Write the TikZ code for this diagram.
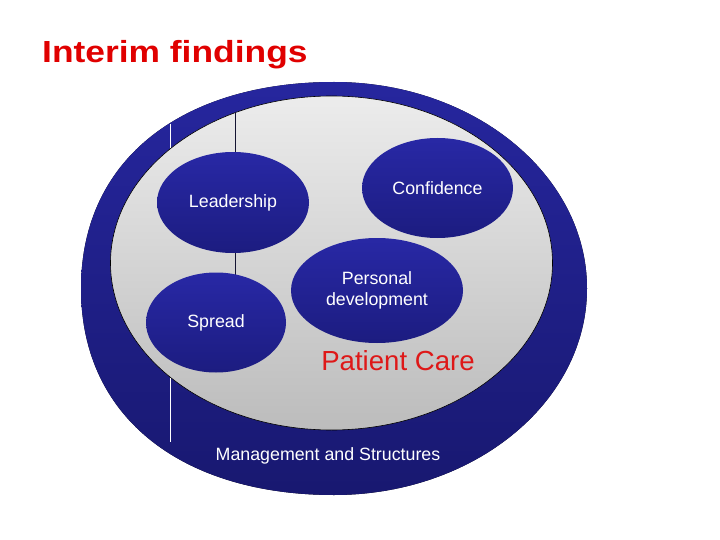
\documentclass[tikz,border=0pt]{standalone}
\usepackage{fontspec}
\setmainfont{Liberation Sans}
\usetikzlibrary{shapes.geometric}
\definecolor{bandtop}{RGB}{38,38,158}
\definecolor{bandbot}{RGB}{24,24,112}
\definecolor{bubtop}{RGB}{40,40,165}
\definecolor{bubbot}{RGB}{28,28,128}
\definecolor{grtop}{RGB}{236,236,236}
\definecolor{grbot}{RGB}{188,188,188}
\definecolor{titlered}{RGB}{224,0,0}
\definecolor{carered}{RGB}{222,24,24}
\definecolor{rulecol}{RGB}{20,20,50}
\begin{document}
\begin{tikzpicture}[x=1pt,y=-1pt,
  bubble/.style={ellipse, inner sep=0pt, top color=bubtop, bottom color=bubbot, text=white, font=\fontsize{17.8}{21}\selectfont, align=center},
  rulewhite/.style={white, line width=1.1pt},
  ruledark/.style={rulecol, line width=1pt}]
\useasboundingbox (0,0) rectangle (720,540);
% outer band
\fill[top color=bandtop, bottom color=bandbot] (587,288.5) .. controls (587,174.5) and (473.7,82) .. (334,82) .. controls (186.5,82) and (81,156) .. (81,288.5) .. controls (81,421) and (186.5,495) .. (334,495) .. controls (473.7,495) and (587,402.5) .. cycle;
\coordinate (wtop) at (170.5,124);
\coordinate (wbot) at (170.5,442);
\draw[rulewhite] (wtop) -- (wbot);
% inner ellipse
\node[ellipse, minimum width=442pt, minimum height=334pt, inner sep=0pt, draw=black, line width=.6pt, top color=grtop, bottom color=grbot] (inner) at (331.5,263) {};
\coordinate (dtop) at (235.5,112.5);
\coordinate (dbot) at (235.5,300);
\draw[ruledark] (dtop) -- (dbot);
% bubbles
\node[bubble, minimum width=152pt, minimum height=101pt] (lead) at (233,202.5) {Leadership};
\node[bubble, minimum width=151pt, minimum height=100pt] (conf) at (437.5,188) {Confidence};
\node[bubble, minimum width=172pt, minimum height=105pt] (pers) at (377,290.5) {Personal\\development};
\node[bubble, minimum width=140pt, minimum height=100pt] (spread) at (216,322.5) {Spread};
% texts
\node[font=\fontsize{27.6}{30}\selectfont, text=carered, inner sep=0pt] (care) at (398,361) {Patient Care};
\node[font=\fontsize{17.8}{21}\selectfont, text=white, inner sep=0pt] (mgmt) at (328,456) {Management and Structures};
\node[anchor=base west, inner sep=0pt, text=titlered, font=\fontsize{30.5}{34}\selectfont\bfseries] (title) at (42,63) {\scalebox{1.16}[1]{Interim findings}};
\end{tikzpicture}
\end{document}
